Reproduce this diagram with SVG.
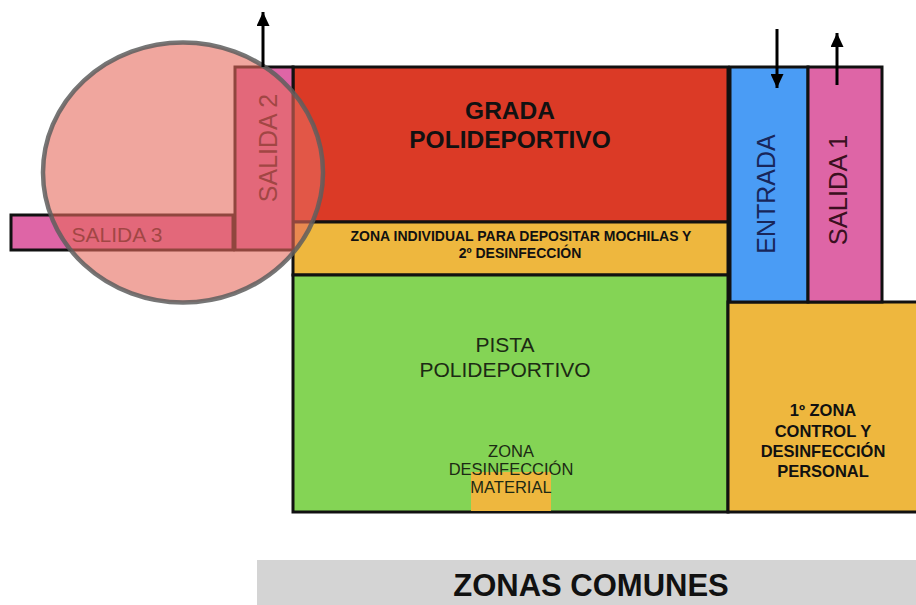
<svg xmlns="http://www.w3.org/2000/svg" width="916" height="605" viewBox="0 0 916 605">
<style>
.b{stroke:#111;stroke-width:3}
.t{font-family:"Liberation Sans",Arial,sans-serif;text-anchor:middle}
.bold{font-weight:bold}
</style>
<defs>
<marker id="ah" markerWidth="14" markerHeight="13" refX="14" refY="6.5" orient="auto" markerUnits="userSpaceOnUse" viewBox="0 0 14 13"><path d="M0,0 L14,6.5 L0,13 z" fill="#000"/></marker>
</defs>
<rect width="916" height="605" fill="#fff"/>
<g id="grada"><rect class="b" x="293" y="67" width="435" height="155" fill="#db3a26"/>
<text class="t bold" x="510" y="119" font-size="24.5" fill="#111">GRADA</text>
<text class="t bold" x="510" y="148" font-size="24.5" fill="#111">POLIDEPORTIVO</text></g>
<g id="mochilas"><rect class="b" x="293" y="222" width="435" height="53" fill="#eeb73e"/>
<text class="t bold" x="521" y="241" font-size="14" fill="#111">ZONA INDIVIDUAL PARA DEPOSITAR MOCHILAS Y</text>
<text class="t bold" x="520" y="258" font-size="14" fill="#111">2º DESINFECCIÓN</text></g>
<g id="pista"><rect class="b" x="293" y="275" width="435" height="237" fill="#84d455"/>
<text class="t" x="505" y="352" font-size="21" fill="#1c2a14">PISTA</text>
<text class="t" x="505" y="377" font-size="21" fill="#1c2a14">POLIDEPORTIVO</text></g>
<g id="material"><rect x="471" y="472" width="80" height="39" fill="#eeb73e"/>
<text class="t" x="511" y="457" font-size="16.5" fill="#1c2a14">ZONA</text>
<text class="t" x="511" y="475" font-size="16.5" fill="#1c2a14">DESINFECCIÓN</text>
<text class="t" x="511" y="493" font-size="16.5" fill="#1c2a14">MATERIAL</text></g>
<g id="control"><rect class="b" x="728" y="302" width="190" height="210" fill="#eeb73e"/>
<text class="t bold" x="823" y="416" font-size="16.5" fill="#111">1º ZONA</text>
<text class="t bold" x="823" y="437" font-size="16.5" fill="#111">CONTROL Y</text>
<text class="t bold" x="823" y="457" font-size="16.5" fill="#111">DESINFECCIÓN</text>
<text class="t bold" x="823" y="477" font-size="16.5" fill="#111">PERSONAL</text></g>
<g id="entrada"><rect class="b" x="730" y="67" width="78" height="235" fill="#4a9cf5"/>
<text class="t" transform="translate(775,194) rotate(-90)" font-size="25" fill="#18265a">ENTRADA</text></g>
<g id="salida1"><rect class="b" x="808" y="67" width="74" height="235" fill="#de65a6"/>
<text class="t" transform="translate(847,190) rotate(-90)" font-size="25.5" fill="#3a1020">SALIDA 1</text></g>
<g id="salida3"><rect class="b" x="11" y="215" width="222" height="35" fill="#de65a6"/>
<text class="t" x="117" y="242" font-size="21" fill="#3a1020">SALIDA 3</text></g>
<g id="salida2"><rect class="b" x="235" y="67" width="58" height="183" fill="#de65a6"/>
<text class="t" transform="translate(277,148) rotate(-90)" font-size="25" fill="#3a1020">SALIDA 2</text></g>
<g id="zona-circulo"><ellipse cx="183" cy="172.5" rx="140" ry="130" fill="#e66a5e" fill-opacity="0.6" stroke="#5e5e5e" stroke-opacity="0.85" stroke-width="4.5"/></g>
<g id="comunes"><rect x="257" y="560" width="659" height="45" fill="#d4d4d4"/>
<text class="t bold" x="591" y="596" font-size="31" fill="#111">ZONAS COMUNES</text></g>
<g id="connectors" stroke="#000" stroke-width="3" fill="none">
<line x1="263" y1="67" x2="263" y2="12" marker-end="url(#ah)"/>
<line x1="777" y1="29" x2="777" y2="88" marker-end="url(#ah)"/>
<line x1="837" y1="85" x2="837" y2="33" marker-end="url(#ah)"/>
</g>
</svg>
